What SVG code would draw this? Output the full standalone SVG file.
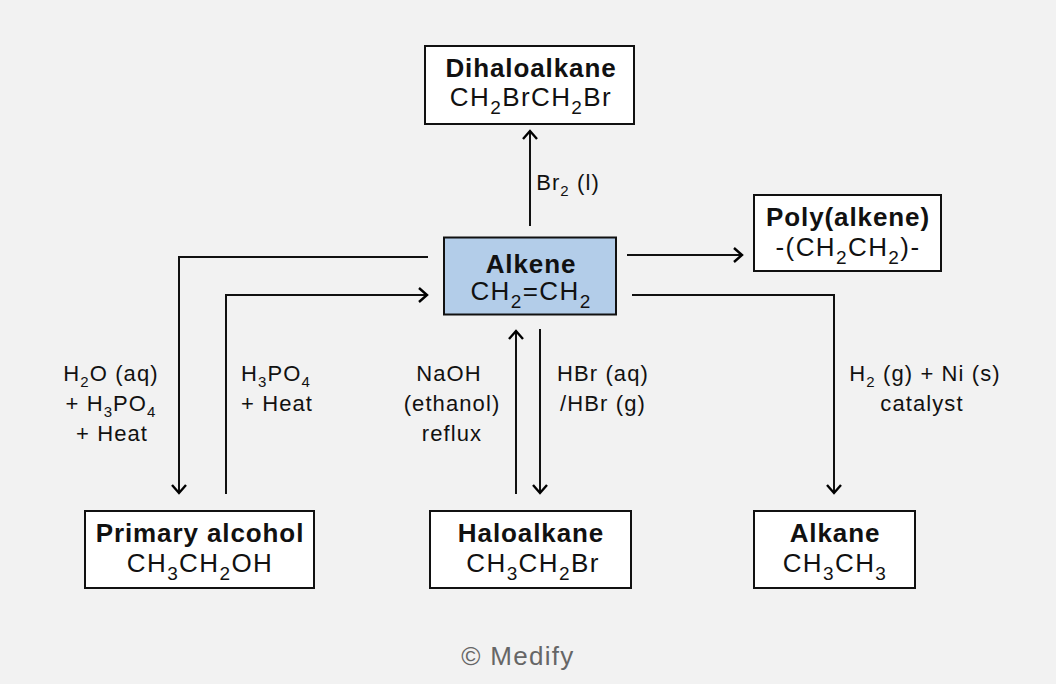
<svg xmlns="http://www.w3.org/2000/svg" width="1056" height="684" viewBox="0 0 1056 684">
<defs>
<marker id="arr" markerUnits="userSpaceOnUse" markerWidth="20" markerHeight="20" refX="0" refY="0" viewBox="-10 -10 20 20" orient="auto" overflow="visible">
<path d="M-8,-7 L0,0 L-8,7" fill="none" stroke="#000" stroke-width="2.4" stroke-linejoin="miter"/>
</marker>
<style>
.box{fill:#fff;stroke:#111;stroke-width:2}
.main{fill:#b3cde9;stroke:#111;stroke-width:2}
.t{font-family:"Liberation Sans",Arial,sans-serif;font-weight:bold;font-size:26px;letter-spacing:0.9px;fill:#111;text-anchor:middle}
.f{font-family:"Liberation Sans",Arial,sans-serif;font-size:26px;letter-spacing:1.4px;fill:#111;text-anchor:middle}
.s{font-size:19px}
.l{font-family:"Liberation Sans",Arial,sans-serif;font-size:22px;letter-spacing:1.1px;fill:#111;text-anchor:middle}
.ls{font-size:15px}
.c{fill:none;stroke:#111;stroke-width:2}
</style>
</defs>
<rect width="1056" height="684" fill="#f2f2f2"/>
<g id="connectors">
<path class="c" d="M530,226 V131" marker-end="url(#arr)"/>
<path class="c" d="M627,255 H742" marker-end="url(#arr)"/>
<path class="c" d="M428,257 H179 V493" marker-end="url(#arr)"/>
<path class="c" d="M226,494 V295 H427" marker-end="url(#arr)"/>
<path class="c" d="M516,494 V331" marker-end="url(#arr)"/>
<path class="c" d="M540,329 V493" marker-end="url(#arr)"/>
<path class="c" d="M632,295 H834 V493" marker-end="url(#arr)"/>
</g>
<g id="labels">
<text class="l" x="568" y="190">Br<tspan class="ls" dy="6">2</tspan><tspan dy="-6"> (l)</tspan></text>
<text class="l" x="111" y="381">H<tspan class="ls" dy="6">2</tspan><tspan dy="-6">O (aq)</tspan></text>
<text class="l" x="111" y="411">+ H<tspan class="ls" dy="6">3</tspan><tspan dy="-6">PO</tspan><tspan class="ls" dy="6">4</tspan></text>
<text class="l" x="112" y="441">+ Heat</text>
<text class="l" x="276" y="381">H<tspan class="ls" dy="6">3</tspan><tspan dy="-6">PO</tspan><tspan class="ls" dy="6">4</tspan></text>
<text class="l" x="277" y="411">+ Heat</text>
<text class="l" x="449" y="381">NaOH</text>
<text class="l" x="452" y="411">(ethanol)</text>
<text class="l" x="452" y="441">reflux</text>
<text class="l" x="603" y="381">HBr (aq)</text>
<text class="l" x="603" y="411">/HBr (g)</text>
<text class="l" x="925" y="381">H<tspan class="ls" dy="6">2</tspan><tspan dy="-6"> (g) + Ni (s)</tspan></text>
<text class="l" x="922" y="411">catalyst</text>
</g>
<g id="dihaloalkane">
<rect class="box" x="425" y="46" width="209" height="78"/>
<text class="t" x="531" y="77">Dihaloalkane</text>
<text class="f" x="531" y="106">CH<tspan class="s" dy="8">2</tspan><tspan dy="-8">BrCH</tspan><tspan class="s" dy="8">2</tspan><tspan dy="-8">Br</tspan></text>
</g>
<g id="alkene">
<rect class="main" x="444" y="237.5" width="172" height="77"/>
<text class="t" x="531" y="273">Alkene</text>
<text class="f" x="531" y="300">CH<tspan class="s" dy="8">2</tspan><tspan dy="-8">=CH</tspan><tspan class="s" dy="8">2</tspan></text>
</g>
<g id="polyalkene">
<rect class="box" x="754" y="195" width="187" height="76"/>
<text class="t" x="848" y="226">Poly(alkene)</text>
<text class="f" x="848" y="256">-(CH<tspan class="s" dy="8">2</tspan><tspan dy="-8">CH</tspan><tspan class="s" dy="8">2</tspan><tspan dy="-8">)-</tspan></text>
</g>
<g id="primary-alcohol">
<rect class="box" x="85" y="511" width="229" height="77"/>
<text class="t" x="200" y="542">Primary alcohol</text>
<text class="f" x="200" y="572">CH<tspan class="s" dy="8">3</tspan><tspan dy="-8">CH</tspan><tspan class="s" dy="8">2</tspan><tspan dy="-8">OH</tspan></text>
</g>
<g id="haloalkane">
<rect class="box" x="430" y="511" width="201" height="77"/>
<text class="t" x="531" y="542">Haloalkane</text>
<text class="f" x="533" y="572">CH<tspan class="s" dy="8">3</tspan><tspan dy="-8">CH</tspan><tspan class="s" dy="8">2</tspan><tspan dy="-8">Br</tspan></text>
</g>
<g id="alkane">
<rect class="box" x="754" y="511" width="161" height="77"/>
<text class="t" x="835" y="542">Alkane</text>
<text class="f" x="835" y="572">CH<tspan class="s" dy="8">3</tspan><tspan dy="-8">CH</tspan><tspan class="s" dy="8">3</tspan></text>
</g>
<text x="518" y="665" font-family="Liberation Sans, Arial, sans-serif" font-size="26" letter-spacing="1.3" fill="#666" text-anchor="middle">© Medify</text>
</svg>
